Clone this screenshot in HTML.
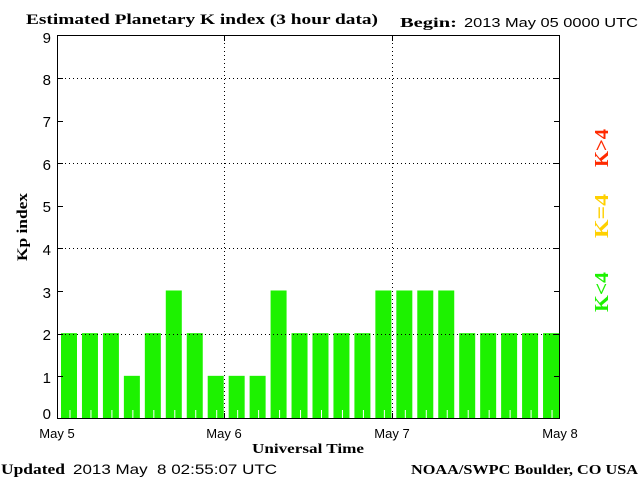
<!DOCTYPE html>
<html><head><style>
html,body{margin:0;padding:0;background:#fff;}
svg{display:block;}
.s{font-family:"Liberation Serif",serif;font-weight:bold;}
.n{font-family:"Liberation Sans",sans-serif;}
</style></head><body>
<svg width="640" height="480" viewBox="0 0 640 480" xmlns="http://www.w3.org/2000/svg">
<rect width="640" height="480" fill="#fff"/>
<text x="26" y="24" class="s" font-size="15" textLength="352" lengthAdjust="spacingAndGlyphs">Estimated Planetary K index (3 hour data)</text>
<text x="400" y="27" class="s" font-size="14" textLength="57" lengthAdjust="spacingAndGlyphs">Begin:</text>
<text x="464" y="27" class="n" font-size="13" textLength="174" lengthAdjust="spacingAndGlyphs">2013 May 05 0000 UTC</text>
<g id="bars" fill="#1df200"></g>
<script>
var v=[2,2,2,1,2,3,2,1,1,1,3,2,2,2,2,3,3,3,3,2,2,2,2,2];
var g=document.getElementById('bars'),ns='http://www.w3.org/2000/svg';
for(var i=0;i<24;i++){var s=57+20.958*i;var r=document.createElementNS(ns,'rect');
var h=42.67*v[i]+0.5;r.setAttribute('x',s+4);r.setAttribute('y',419-h);r.setAttribute('width',16);r.setAttribute('height',h);g.appendChild(r);
var l=document.createElementNS(ns,'line');l.setAttribute('x1',s+13);l.setAttribute('x2',s+13);l.setAttribute('y1',410);l.setAttribute('y2',419);l.setAttribute('stroke','#fff');l.setAttribute('stroke-width','1');g.appendChild(l);}
</script>
<g stroke="#000" stroke-width="1" stroke-dasharray="1,3">
<line x1="57" x2="560" y1="78.5" y2="78.5"/>
<line x1="57" x2="560" y1="163.5" y2="163.5"/>
<line x1="57" x2="560" y1="248.5" y2="248.5"/>
<line x1="57" x2="560" y1="334.5" y2="334.5"/>
<line x1="224.5" x2="224.5" y1="35" y2="419"/>
<line x1="392.5" x2="392.5" y1="35" y2="419"/>
</g>
<g stroke="#000" stroke-width="1">
<rect x="57.5" y="35.5" width="502" height="383" fill="none"/>
<line x1="57" x2="63" y1="78.5" y2="78.5"/><line x1="57" x2="63" y1="121.5" y2="121.5"/><line x1="57" x2="63" y1="163.5" y2="163.5"/><line x1="57" x2="63" y1="206.5" y2="206.5"/><line x1="57" x2="63" y1="248.5" y2="248.5"/><line x1="57" x2="63" y1="291.5" y2="291.5"/><line x1="57" x2="63" y1="334.5" y2="334.5"/><line x1="57" x2="63" y1="376.5" y2="376.5"/>
<line x1="554" x2="560" y1="78.5" y2="78.5"/><line x1="554" x2="560" y1="121.5" y2="121.5"/><line x1="554" x2="560" y1="163.5" y2="163.5"/><line x1="554" x2="560" y1="206.5" y2="206.5"/><line x1="554" x2="560" y1="248.5" y2="248.5"/><line x1="554" x2="560" y1="291.5" y2="291.5"/><line x1="554" x2="560" y1="334.5" y2="334.5"/><line x1="554" x2="560" y1="376.5" y2="376.5"/>
<line x1="224.5" x2="224.5" y1="35" y2="41"/><line x1="392.5" x2="392.5" y1="35" y2="41"/>
<line x1="224.5" x2="224.5" y1="413" y2="419"/><line x1="392.5" x2="392.5" y1="413" y2="419"/>
</g>
<g class="n" font-size="15" text-anchor="end">
<text x="51" y="43">9</text><text x="51" y="85">8</text><text x="51" y="127">7</text><text x="51" y="170">6</text><text x="51" y="212">5</text><text x="51" y="255">4</text><text x="51" y="298">3</text><text x="51" y="340">2</text><text x="51" y="383">1</text><text x="51" y="419">0</text>
</g>
<g class="n" font-size="13" text-anchor="middle">
<text x="57" y="438">May 5</text><text x="224" y="438">May 6</text><text x="392" y="438">May 7</text><text x="560" y="438">May 8</text>
</g>
<text x="252" y="453" class="s" font-size="14" textLength="112" lengthAdjust="spacingAndGlyphs">Universal Time</text>
<text transform="translate(27,227) rotate(-90)" class="s" font-size="15" text-anchor="middle" textLength="68" lengthAdjust="spacingAndGlyphs">Kp index</text>
<g class="s" font-size="20" text-anchor="middle">
<text transform="translate(608,148) rotate(-90)" fill="#ff2a00" textLength="38" lengthAdjust="spacingAndGlyphs">K&gt;4</text>
<text transform="translate(608,216) rotate(-90)" fill="#ffd000" textLength="44" lengthAdjust="spacingAndGlyphs">K=4</text>
<text transform="translate(608,292) rotate(-90)" fill="#1df200" textLength="40" lengthAdjust="spacingAndGlyphs">K&lt;4</text>
</g>
<text x="1" y="474" class="s" font-size="15" textLength="64" lengthAdjust="spacingAndGlyphs">Updated</text>
<text x="73" y="474" class="n" font-size="14" textLength="204" lengthAdjust="spacingAndGlyphs" xml:space="preserve">2013 May  8 02:55:07 UTC</text>
<text x="411" y="474" class="s" font-size="14" textLength="227" lengthAdjust="spacingAndGlyphs">NOAA/SWPC Boulder, CO USA</text>
</svg>
</body></html>
